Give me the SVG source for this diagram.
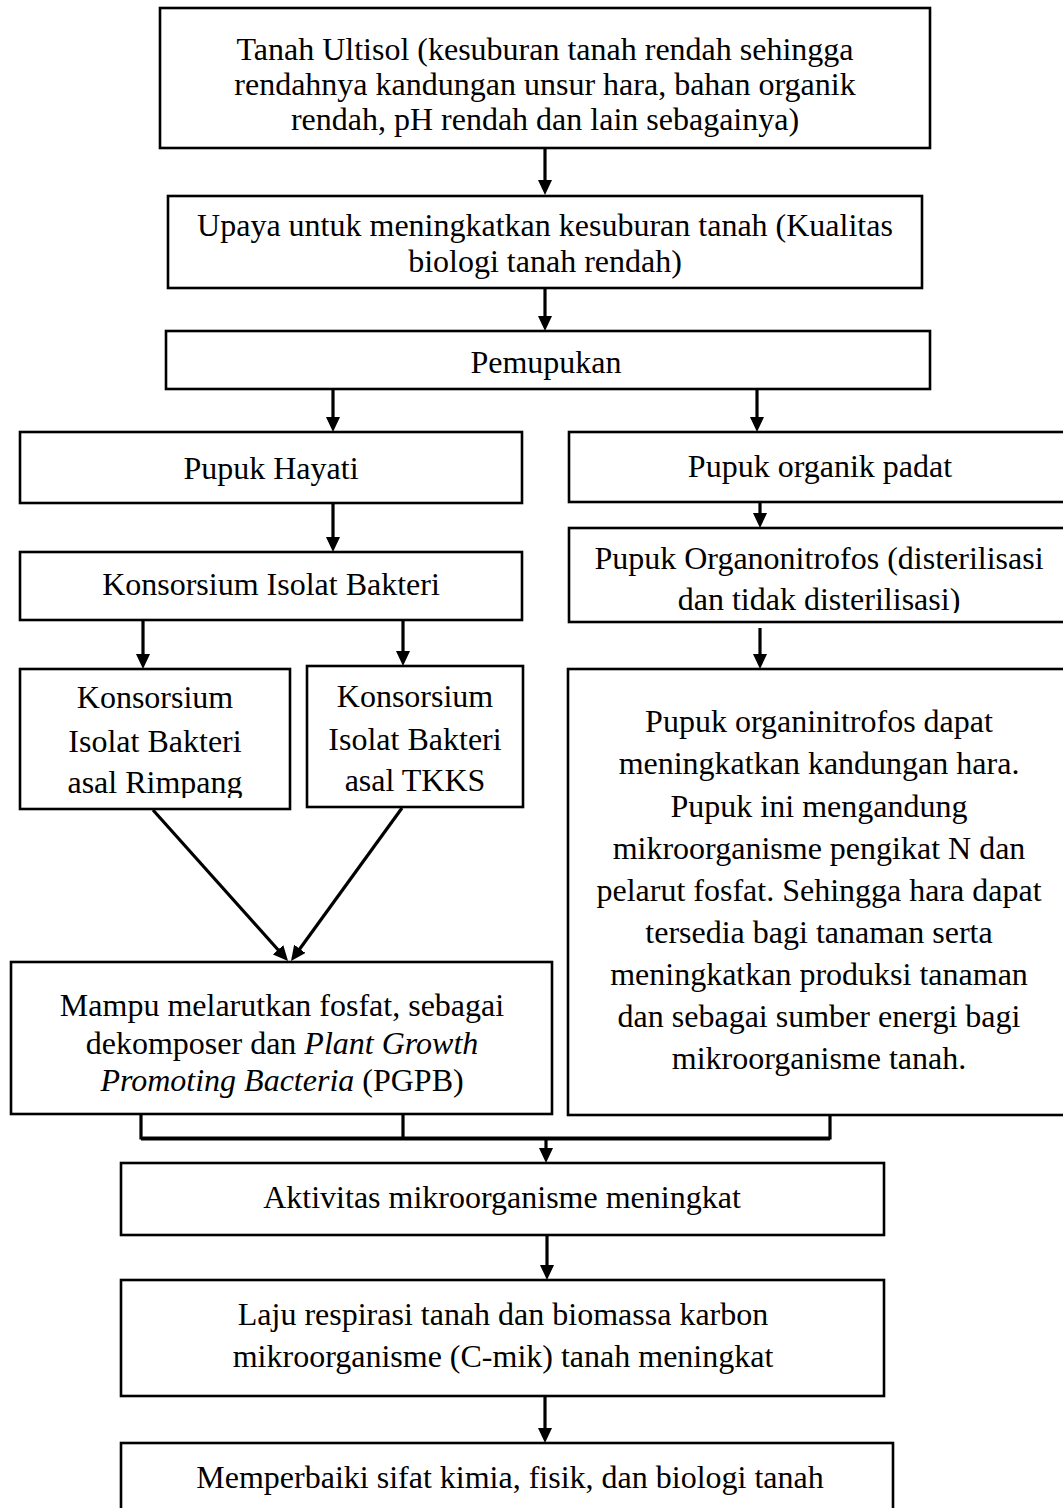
<svg xmlns="http://www.w3.org/2000/svg" width="1063" height="1508" viewBox="0 0 1063 1508">
<style>
.box{fill:#fff;stroke:#000;stroke-width:2.6}
.t{font-family:"Liberation Serif","Times New Roman",serif;font-size:32px;fill:#000;text-anchor:middle}
.i{font-style:italic}
.c{fill:none;stroke:#000;stroke-width:3.2}
.a{marker-end:url(#arr)}
</style>
<defs>
<marker id="arr" viewBox="0 0 15 14" refX="7" refY="7" markerWidth="15" markerHeight="14" markerUnits="userSpaceOnUse" orient="auto">
<path d="M0,0 L15,7 L0,14 z" fill="#000"/>
</marker>
<clipPath id="clip7"><rect x="560" y="520" width="520" height="93"/></clipPath>
<clipPath id="clip8"><rect x="15" y="660" width="280" height="138"/></clipPath>
</defs>
<rect width="1063" height="1508" fill="#fff"/>

<g id="connectors">
<line class="c a" x1="545" y1="148" x2="545" y2="187"/>
<line class="c a" x1="545" y1="288" x2="545" y2="323"/>
<line class="c a" x1="333" y1="389" x2="333" y2="424"/>
<line class="c a" x1="757" y1="389" x2="757" y2="424"/>
<line class="c a" x1="333" y1="503" x2="333" y2="544"/>
<line class="c a" x1="760" y1="502" x2="760" y2="520"/>
<line class="c a" x1="143" y1="620" x2="143" y2="661"/>
<line class="c a" x1="403" y1="620" x2="403" y2="658"/>
<line class="c a" x1="760" y1="628" x2="760" y2="661"/>
<line class="c a" x1="153" y1="810" x2="282.7" y2="955"/>
<line class="c a" x1="402" y1="808" x2="295.7" y2="954.5"/>
<polyline class="c" points="141,1114 141,1138 830,1138 830,1115"/>
<line class="c" x1="403" y1="1114" x2="403" y2="1138"/>
<line class="c" x1="141" y1="1139" x2="830" y2="1139"/>
<line class="c a" x1="546" y1="1138" x2="546" y2="1155"/>
<line class="c a" x1="547" y1="1235" x2="547" y2="1272"/>
<line class="c a" x1="545" y1="1396" x2="545" y2="1435"/>
</g>

<g id="n1">
<rect class="box" x="160" y="8" width="770" height="140"/>
<text class="t" x="545" y="60">Tanah Ultisol (kesuburan tanah rendah sehingga</text>
<text class="t" x="545" y="95">rendahnya kandungan unsur hara, bahan organik</text>
<text class="t" x="545" y="130">rendah, pH rendah dan lain sebagainya)</text>
</g>
<g id="n2">
<rect class="box" x="168" y="196" width="754" height="92"/>
<text class="t" x="545" y="236">Upaya untuk meningkatkan kesuburan tanah (Kualitas</text>
<text class="t" x="545" y="272">biologi tanah rendah)</text>
</g>
<g id="n3">
<rect class="box" x="166" y="331" width="764" height="58"/>
<text class="t" x="546" y="373">Pemupukan</text>
</g>
<g id="n4">
<rect class="box" x="20" y="432" width="502" height="71"/>
<text class="t" x="271" y="479">Pupuk Hayati</text>
</g>
<g id="n5">
<rect class="box" x="569" y="432" width="511" height="70"/>
<text class="t" x="820" y="477">Pupuk organik padat</text>
</g>
<g id="n6">
<rect class="box" x="20" y="552" width="502" height="68"/>
<text class="t" x="271" y="595">Konsorsium Isolat Bakteri</text>
</g>
<g id="n7">
<rect class="box" x="569" y="528" width="511" height="94"/>
<g clip-path="url(#clip7)">
<text class="t" x="819" y="569">Pupuk Organonitrofos (disterilisasi</text>
<text class="t" x="819" y="610">dan tidak disterilisasi)</text>
</g>
</g>
<g id="n8">
<rect class="box" x="20" y="669" width="270" height="140"/>
<g clip-path="url(#clip8)">
<text class="t" x="155" y="708">Konsorsium</text>
<text class="t" x="155" y="752">Isolat Bakteri</text>
<text class="t" x="155" y="793">asal Rimpang</text>
</g>
</g>
<g id="n9">
<rect class="box" x="307" y="666" width="216" height="141"/>
<text class="t" x="415" y="707">Konsorsium</text>
<text class="t" x="415" y="750">Isolat Bakteri</text>
<text class="t" x="415" y="791">asal TKKS</text>
</g>
<g id="n10">
<rect class="box" x="11" y="962" width="541" height="152"/>
<text class="t" x="282" y="1016">Mampu melarutkan fosfat, sebagai</text>
<text class="t" x="282" y="1054">dekomposer dan <tspan class="i">Plant Growth</tspan></text>
<text class="t" x="282" y="1091"><tspan class="i">Promoting Bacteria</tspan> (PGPB)</text>
</g>
<g id="n11">
<rect class="box" x="568" y="669" width="512" height="446"/>
<text class="t" x="819" y="732">Pupuk organinitrofos dapat</text>
<text class="t" x="819" y="774">meningkatkan kandungan hara.</text>
<text class="t" x="819" y="817">Pupuk ini mengandung</text>
<text class="t" x="819" y="859">mikroorganisme pengikat N dan</text>
<text class="t" x="819" y="901">pelarut fosfat. Sehingga hara dapat</text>
<text class="t" x="819" y="943">tersedia bagi tanaman serta</text>
<text class="t" x="819" y="985">meningkatkan produksi tanaman</text>
<text class="t" x="819" y="1027">dan sebagai sumber energi bagi</text>
<text class="t" x="819" y="1069">mikroorganisme tanah.</text>
</g>
<g id="n12">
<rect class="box" x="121" y="1163" width="763" height="72"/>
<text class="t" x="502" y="1208">Aktivitas mikroorganisme meningkat</text>
</g>
<g id="n13">
<rect class="box" x="121" y="1280" width="763" height="116"/>
<text class="t" x="503" y="1325">Laju respirasi tanah dan biomassa karbon</text>
<text class="t" x="503" y="1367">mikroorganisme (C-mik) tanah meningkat</text>
</g>
<g id="n14">
<rect class="box" x="121" y="1443" width="772" height="80"/>
<text class="t" x="510" y="1488">Memperbaiki sifat kimia, fisik, dan biologi tanah</text>
</g>
</svg>
